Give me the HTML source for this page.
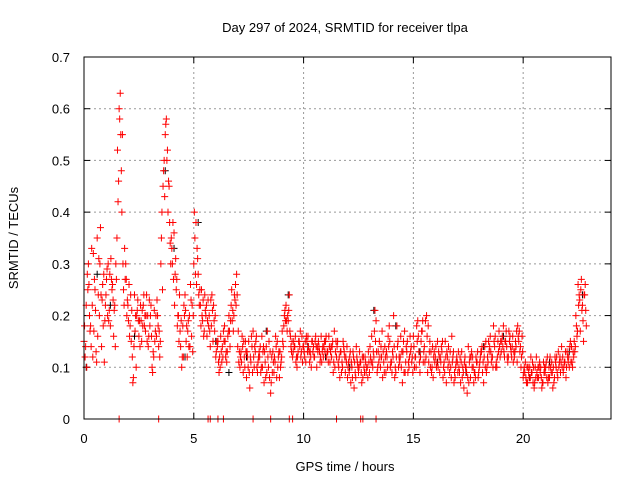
<!DOCTYPE html>
<html><head><meta charset="utf-8"><style>
body{margin:0;background:#fff}
svg{display:block;font-family:"Liberation Sans",sans-serif}
</style></head><body>
<svg id="chart" width="640" height="480" viewBox="0 0 640 480">
<rect width="640" height="480" fill="#fff"/>
<text x="345" y="32" font-size="13" text-anchor="middle">Day 297 of 2024, SRMTID for receiver tlpa</text>
<text x="345" y="471" font-size="13" text-anchor="middle">GPS time / hours</text>
<text x="18" y="238" font-size="13" text-anchor="middle" transform="rotate(-90 18 238)">SRMTID / TECUs</text>
<g id="grid"></g>
<g id="ticks"></g>
<g id="marks"></g>
<rect x="84" y="57" width="527" height="362" fill="none" stroke="#000" stroke-width="1"/>
</svg>
<script>
const xTicks=[0,5,10,15,20];
const yTicks=[0,0.1,0.2,0.3,0.4,0.5,0.6,0.7];
const yTickLabels=["0","0.1","0.2","0.3","0.4","0.5","0.6","0.7"];
const redStep=0.1;
const redAStart=0.0;
const redA=[0.15,0.22,0.30,0.18,0.12,0.25,0.35,0.20,0.14,0.28,
0.24,0.30,0.18,0.26,0.22,0.35,0.60,0.48,0.25,0.30,
0.22,0.18,0.12,0.24,0.20,0.16,0.19,0.22,0.17,0.20,
0.18,0.10,0.21,0.16,0.14,0.30,0.45,0.55,0.52,0.38,
0.33,0.36,0.25,0.20,0.14,0.18,0.24,0.12,0.20,0.16,
0.30,0.38,0.28,0.22,0.19,0.24,0.16,0.20,0.18,0.22,
0.12,0.15,0.10,0.14,0.18,0.11,0.20,0.22,0.17,0.26,
0.14,0.10,0.16,0.12,0.08,0.15,0.11,0.17,0.13,0.09,
0.12,0.16,0.07,0.14,0.10,0.05,0.13,0.11,0.15,0.08,
0.12,0.18,0.22,0.19,0.16,0.12,0.14,0.10,0.15,0.13,
0.14,0.11,0.16,0.13,0.15,0.12,0.10,0.14,0.16,0.12,
0.15,0.13,0.11,0.14,0.17,0.12,0.10,0.13,0.15,0.09,
0.08,0.12,0.10,0.06,0.14,0.09,0.11,0.08,0.12,0.10,
0.09,0.16,0.12,0.19,0.13,0.10,0.08,0.14,0.12,0.18,
0.11,0.20,0.09,0.15,0.12,0.07,0.17,0.13,0.10,0.14,
0.16,0.12,0.19,0.09,0.17,0.14,0.20,0.11,0.13,0.08,
0.12,0.15,0.09,0.13,0.11,0.07,0.14,0.10,0.12,0.08,
0.11,0.09,0.13,0.06,0.10,0.14,0.08,0.12,0.09,0.11,
0.10,0.13,0.07,0.15,0.11,0.16,0.12,0.14,0.10,0.17,
0.13,0.18,0.15,0.11,0.16,0.14,0.12,0.17,0.15,0.10,
0.08,0.11,0.07,0.10,0.09,0.06,0.12,0.08,0.10,0.07,
0.09,0.12,0.08,0.11,0.07,0.10,0.13,0.09,0.12,0.11,
0.13,0.10,0.14,0.12,0.20,0.26,0.17,0.22,0.24];
const redBStart=0.05;
const redB=[0.12,0.28,0.20,0.33,0.17,0.13,0.24,0.37,0.26,0.19,
0.29,0.21,0.27,0.16,0.30,0.42,0.63,0.55,0.33,0.20,
0.26,0.15,0.08,0.20,0.23,0.14,0.21,0.18,0.24,0.16,
0.22,0.13,0.17,0.20,0.12,0.40,0.50,0.58,0.46,0.30,
0.38,0.28,0.18,0.24,0.10,0.22,0.15,0.19,0.26,0.13,
0.35,0.33,0.22,0.25,0.16,0.20,0.23,0.14,0.21,0.17,
0.15,0.09,0.13,0.17,0.12,0.16,0.14,0.19,0.24,0.28,
0.11,0.13,0.09,0.15,0.12,0.06,0.14,0.10,0.16,0.12,
0.09,0.13,0.11,0.17,0.08,0.12,0.09,0.14,0.12,0.10,
0.15,0.21,0.17,0.24,0.13,0.15,0.11,0.13,0.17,0.11,
0.12,0.15,0.13,0.10,0.14,0.16,0.13,0.11,0.13,0.15,
0.12,0.16,0.14,0.09,0.13,0.15,0.08,0.11,0.13,0.11,
0.11,0.07,0.13,0.09,0.11,0.13,0.07,0.10,0.09,0.13,
0.12,0.10,0.21,0.09,0.15,0.12,0.11,0.09,0.16,0.10,
0.13,0.08,0.18,0.12,0.10,0.15,0.11,0.09,0.16,0.12,
0.10,0.18,0.13,0.15,0.11,0.19,0.09,0.15,0.10,0.13,
0.10,0.13,0.11,0.08,0.15,0.12,0.09,0.16,0.07,0.11,
0.13,0.07,0.10,0.12,0.05,0.11,0.13,0.07,0.12,0.08,
0.12,0.09,0.14,0.10,0.13,0.11,0.18,0.10,0.15,0.12,
0.16,0.12,0.14,0.17,0.13,0.11,0.15,0.18,0.13,0.16,
0.10,0.07,0.09,0.12,0.07,0.10,0.08,0.11,0.06,0.09,
0.11,0.08,0.10,0.06,0.12,0.09,0.11,0.14,0.10,0.08,
0.11,0.15,0.10,0.13,0.16,0.24,0.27,0.15,0.21];
const redCStart=0.025;
const redC=[0.18,0.10,0.26,0.14,0.32,0.21,0.16,0.30,0.23,0.11,
0.27,0.19,0.31,0.23,0.14,0.52,0.58,0.40,0.22,0.27,
0.19,0.24,0.07,0.17,0.21,0.19,0.15,0.24,0.20,0.14,
0.20,0.09,0.15,0.23,0.17,0.35,0.48,0.57,0.40,0.34,
0.30,0.22,0.27,0.15,0.19,0.12,0.21,0.17,0.14,0.22,
0.40,0.26,0.24,0.18,0.23,0.21,0.19,0.17,0.24,0.19,
0.13,0.11,0.16,0.12,0.15,0.13,0.17,0.25,0.20,0.22,
0.17,0.12,0.14,0.10,0.13,0.09,0.16,0.12,0.15,0.11,
0.14,0.10,0.13,0.09,0.15,0.07,0.11,0.16,0.10,0.13,
0.17,0.20,0.19,0.21,0.14,0.13,0.16,0.12,0.14,0.16,
0.13,0.16,0.14,0.12,0.13,0.15,0.14,0.13,0.11,0.14,
0.16,0.11,0.13,0.15,0.10,0.14,0.12,0.09,0.14,0.12,
0.10,0.13,0.08,0.11,0.12,0.10,0.09,0.12,0.11,0.08,
0.14,0.11,0.17,0.13,0.11,0.14,0.13,0.12,0.10,0.15,
0.09,0.14,0.12,0.10,0.16,0.13,0.09,0.15,0.12,0.11,
0.14,0.10,0.16,0.12,0.19,0.11,0.16,0.13,0.09,0.12,
0.14,0.10,0.12,0.15,0.09,0.13,0.11,0.08,0.13,0.10,
0.09,0.12,0.08,0.11,0.09,0.07,0.12,0.10,0.08,0.13,
0.11,0.14,0.12,0.09,0.15,0.13,0.10,0.16,0.12,0.14,
0.15,0.13,0.17,0.12,0.14,0.16,0.13,0.11,0.17,0.12,
0.09,0.08,0.10,0.08,0.11,0.07,0.09,0.10,0.08,0.11,
0.10,0.07,0.12,0.09,0.08,0.12,0.10,0.11,0.09,0.13,
0.12,0.14,0.11,0.15,0.18,0.22,0.25,0.19,0.26];
const redDStart=0.075;
const redD=[0.14,0.25,0.17,0.22,0.27,0.11,0.31,0.24,0.18,0.22,
0.20,0.28,0.25,0.21,0.27,0.46,0.55,0.30,0.27,0.23,
0.16,0.21,0.14,0.10,0.19,0.22,0.18,0.20,0.15,0.23,
0.16,0.12,0.20,0.18,0.15,0.25,0.43,0.50,0.45,0.35,
0.27,0.31,0.20,0.17,0.12,0.20,0.18,0.14,0.23,0.20,
0.28,0.31,0.25,0.20,0.17,0.22,0.18,0.23,0.15,0.20,
0.14,0.12,0.11,0.15,0.13,0.17,0.19,0.21,0.23,0.24,
0.13,0.11,0.15,0.13,0.10,0.12,0.09,0.14,0.10,0.13,
0.10,0.14,0.08,0.12,0.13,0.09,0.12,0.08,0.13,0.11,
0.14,0.19,0.20,0.17,0.15,0.14,0.12,0.15,0.12,0.14,
0.15,0.13,0.11,0.15,0.12,0.14,0.15,0.12,0.14,0.13,
0.13,0.14,0.12,0.11,0.15,0.11,0.13,0.10,0.12,0.14,
0.09,0.11,0.12,0.08,0.10,0.11,0.12,0.09,0.10,0.11,
0.11,0.13,0.15,0.10,0.12,0.17,0.09,0.13,0.14,0.11,
0.12,0.10,0.14,0.11,0.13,0.09,0.14,0.11,0.13,0.09,
0.12,0.15,0.11,0.17,0.13,0.12,0.18,0.10,0.14,0.11,
0.11,0.12,0.14,0.10,0.12,0.10,0.13,0.11,0.09,0.12,
0.10,0.11,0.09,0.10,0.08,0.12,0.10,0.09,0.11,0.09,
0.13,0.11,0.10,0.12,0.14,0.12,0.15,0.11,0.13,0.15,
0.14,0.15,0.12,0.15,0.12,0.13,0.14,0.16,0.14,0.13,
0.09,0.10,0.08,0.09,0.10,0.08,0.10,0.09,0.07,0.10,
0.08,0.10,0.09,0.10,0.11,0.08,0.12,0.10,0.11,0.10,
0.12,0.11,0.13,0.14,0.17,0.23,0.21,0.24,0.18];
const blackT=[0.1,0.6,1.2,2.3,3.7,4.1,4.6,5.2,6.0,6.6,7.4,8.3,9.3,10.2,11.0,12.1,13.2,14.2,15.3,16.1,17.4,18.2,19.1,20.3,21.2,22.1,22.7];
const blackV=[0.10,0.28,0.22,0.16,0.48,0.33,0.12,0.38,0.15,0.09,0.12,0.17,0.24,0.14,0.12,0.10,0.21,0.18,0.13,0.11,0.09,0.14,0.16,0.08,0.11,0.13,0.24];
const zeroT=[1.6,3.4,5.65,5.75,6.1,6.35,7.7,8.5,9.35,9.5,11.5,12.6,12.7,13.3];

const X0=84,X1=611,XMAX=24,Y0=419,Y1=57,YMAX=0.7;
const xs=v=>X0+(X1-X0)*v/XMAX;
const ys=v=>Y0-(Y0-Y1)*v/YMAX;
const NS="http://www.w3.org/2000/svg";
function mk(tag,attrs,parent){const e=document.createElementNS(NS,tag);for(const k in attrs)e.setAttribute(k,attrs[k]);parent.appendChild(e);return e;}
const grid=document.getElementById('grid'),ticks=document.getElementById('ticks'),marks=document.getElementById('marks');
xTicks.forEach(t=>{const x=xs(t);
 if(t>0){const g=mk('line',{x1:x,y1:Y1,x2:x,y2:Y0,stroke:'#999','stroke-dasharray':'2,3'},grid);
 
 }
 mk('line',{x1:x,y1:Y0,x2:x,y2:Y0-6,stroke:'#000'},ticks);
 mk('line',{x1:x,y1:Y1,x2:x,y2:Y1+6,stroke:'#000'},ticks);
 const l=mk('text',{x:x,y:443,'font-size':13,'text-anchor':'middle'},ticks);l.textContent=String(t);
 
 
});
yTicks.forEach((t,i)=>{const y=ys(t);
 if(t>0&&t<YMAX){const g=mk('line',{x1:X0,y1:y,x2:X1,y2:y,stroke:'#999','stroke-dasharray':'2,3'},grid);
 
 }
 mk('line',{x1:X0,y1:y,x2:X0+6,y2:y,stroke:'#000'},ticks);
 mk('line',{x1:X1,y1:y,x2:X1-6,y2:y,stroke:'#000'},ticks);
 const l=mk('text',{x:70,y:y+5,'font-size':13,'text-anchor':'end'},ticks);l.textContent=yTickLabels[i];
 
 
});
function plus(t,v,color,name){const x=xs(t),y=ys(v);
 const p=mk('path',{d:`M${x-3.5},${y}H${x+3.5}M${x},${y-3.5}V${y+3.5}`,stroke:color,'stroke-width':1,fill:'none'},marks);
 
 
}
blackT.forEach((t,i)=>plus(t,blackV[i],'#000','black-point'));
redA.forEach((v,i)=>plus(redAStart+i*redStep,v,'#f00','red-point'));
redB.forEach((v,i)=>plus(redBStart+i*redStep,v,'#f00','red-point'));
redC.forEach((v,i)=>plus(redCStart+i*redStep,v,'#f00','red-point'));
redD.forEach((v,i)=>plus(redDStart+i*redStep,v,'#f00','red-point'));
zeroT.forEach(t=>plus(t,0,'#f00','zero-point'));
</script>
</body></html>
